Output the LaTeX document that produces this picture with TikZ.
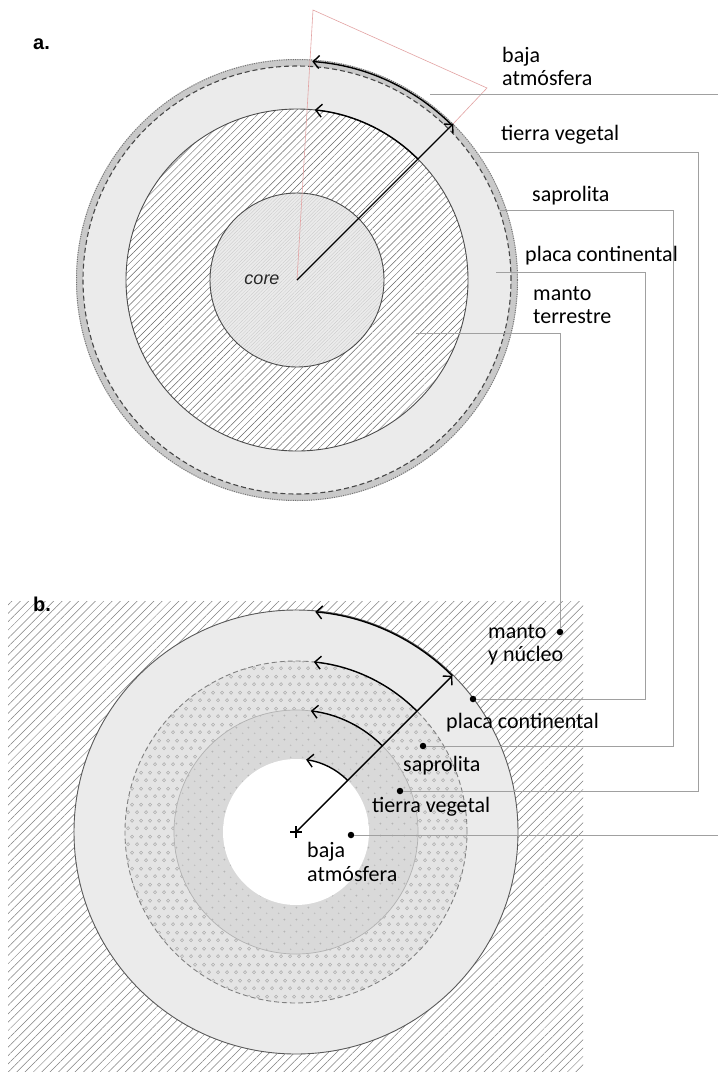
\documentclass[tikz,border=0pt]{standalone}
\usepackage{fontspec}
\setmainfont{Carlito}
\newfontfamily\helvfont{Liberation Sans}
\usetikzlibrary{arrows.meta,calc,patterns,patterns.meta}

% staggered small rings for the saprolite layer
\pgfdeclarepatternformonly{smallrings}{\pgfqpoint{0pt}{0pt}}{\pgfqpoint{9pt}{16pt}}{\pgfqpoint{9pt}{16pt}}{%
  \pgfsetlinewidth{0.6pt}%
  \pgfpathcircle{\pgfqpoint{2.25pt}{4pt}}{1.7pt}\pgfusepath{stroke}%
  \pgfpathcircle{\pgfqpoint{6.75pt}{12pt}}{1.7pt}\pgfusepath{stroke}%
}
% sparse plus marks for the topsoil layer
\pgfdeclarepatternformonly{smallplus}{\pgfqpoint{0pt}{0pt}}{\pgfqpoint{12pt}{12pt}}{\pgfqpoint{12pt}{12pt}}{%
  \pgfsetlinewidth{0.4pt}%
  \pgfpathmoveto{\pgfqpoint{2pt}{3pt}}\pgfpathlineto{\pgfqpoint{4pt}{3pt}}%
  \pgfpathmoveto{\pgfqpoint{3pt}{2pt}}\pgfpathlineto{\pgfqpoint{3pt}{4pt}}%
  \pgfpathmoveto{\pgfqpoint{8pt}{9pt}}\pgfpathlineto{\pgfqpoint{10pt}{9pt}}%
  \pgfpathmoveto{\pgfqpoint{9pt}{8pt}}\pgfpathlineto{\pgfqpoint{9pt}{10pt}}%
  \pgfusepath{stroke}%
}

\definecolor{bandgray}{HTML}{EBEBEB}
\definecolor{rimgray}{HTML}{C9C9C9}
\definecolor{coregray}{HTML}{EBEBEB}
\definecolor{leadergray}{HTML}{A0A0A0}
\definecolor{ringfill}{HTML}{E4E4E4}
\definecolor{innerfill}{HTML}{D9D9D9}
\definecolor{pinkline}{HTML}{E3A3A3}

\begin{document}
\begin{tikzpicture}[x=1pt,y=1pt,
  label/.style={inner sep=0pt, anchor=west, align=left, font=\fontsize{22}{23.5}\selectfont},
  panel/.style={inner sep=0pt, anchor=west, font=\helvfont\bfseries\fontsize{20}{22}\selectfont},
  leader/.style={draw=leadergray, line width=0.9pt},
  dotmark/.style={circle, fill=black, inner sep=0pt, minimum size=6.5pt},
  radial/.style={line width=1.4pt, -{Straight Barb[length=6pt,width=13pt]}},
  arcarrow/.style={line width=1.4pt, -{Straight Barb[length=6pt,width=13pt]}},
  outline/.style={draw=black!70, line width=0.9pt}
]
\useasboundingbox (0,0) rectangle (718,-1072);
\fill[white] (0,0) rectangle (718,-1072);

% ---------- a. concentric earth ----------
\coordinate (ca) at (297,-280);
\fill[rimgray] (ca) circle[radius=221pt];
\fill[bandgray] (ca) circle[radius=214pt];
\draw[black!55, line width=1pt, dash pattern=on 1pt off 1.3pt] (ca) circle[radius=220.5pt];
\draw[black!72, line width=1.1pt, dash pattern=on 5pt off 3pt] (ca) circle[radius=214pt];
% mantle
\fill[white] (ca) circle[radius=171pt];
\fill[pattern={Lines[angle=45,distance=4.9pt,line width=0.45pt]}, pattern color=black!60] (ca) circle[radius=171pt];
\draw[outline] (ca) circle[radius=171pt];
% core
\fill[coregray] (ca) circle[radius=87pt];
\fill[pattern={Lines[angle=45,distance=2.4pt,line width=0.3pt]}, pattern color=black!22] (ca) circle[radius=87pt];
\draw[outline] (ca) circle[radius=87pt];
\node[inner sep=0pt, font=\helvfont\itshape\fontsize{18}{20}\selectfont, text=black!85] (corelbl) at (262,-280) {core};

% radial arrow and arcs
\coordinate (atip) at ($(ca)+(45:221pt)$);
\coordinate (apinkA) at (313,-10);
\coordinate (apinkB) at (487,-88);
\draw[pinkline, line width=0.6pt] (ca) -- (apinkA) -- (apinkB) -- (atip);
\draw[radial] (ca) -- (atip);
\draw[arcarrow] ($(ca)+(45:219pt)$) arc[start angle=45, end angle=86, radius=219pt];
\draw[arcarrow] ($(ca)+(45:171pt)$) arc[start angle=45, end angle=84, radius=171pt];

\node[panel] (pa) at (33,-44) {a.};

% ---------- b. inverted layers ----------
\coordinate (cb) at (296,-832);
\fill[pattern={Lines[angle=45,distance=5.9pt,line width=0.5pt]}, pattern color=black!50] (8,-601) rectangle (583,-1072);
\fill[bandgray] (cb) circle[radius=222pt];
\draw[outline, draw=black!65] (cb) circle[radius=222pt];
\fill[ringfill] (cb) circle[radius=171pt];
\fill[pattern=smallrings, pattern color=black!32] (cb) circle[radius=171pt];
\draw[black!50, line width=0.9pt, dash pattern=on 5pt off 3pt] (cb) circle[radius=171pt];
\fill[innerfill] (cb) circle[radius=122pt];
\fill[pattern=smallplus, pattern color=black!30] (cb) circle[radius=122pt];
\draw[black!30, line width=0.7pt] (cb) circle[radius=122pt];
\fill[white] (cb) circle[radius=73pt];

\coordinate (btip) at ($(cb)+(45:221pt)$);
\draw[radial] (cb) -- (btip);
\draw[arcarrow] ($(cb)+(45:221pt)$) arc[start angle=45, end angle=85, radius=221pt];
\draw[arcarrow] ($(cb)+(45:171pt)$) arc[start angle=45, end angle=84, radius=171pt];
\draw[arcarrow] ($(cb)+(45:122pt)$) arc[start angle=45, end angle=83, radius=122pt];
\draw[arcarrow] ($(cb)+(45:73pt)$) arc[start angle=45, end angle=82, radius=73pt];
\draw[line width=2.2pt] ($(cb)+(-6pt,0)$) -- ($(cb)+(6pt,0)$);
\draw[line width=2.2pt] ($(cb)+(0,-6pt)$) -- ($(cb)+(0,6pt)$);

\node[panel] (pb) at (33,-604) {b.};

% ---------- leader lines ----------
\node[dotmark] (dmanto) at (560,-632) {};
\node[dotmark] (dplaca) at (473,-699) {};
\node[dotmark] (dsapro) at (423,-746) {};
\node[dotmark] (dtierra) at (400,-791) {};
\node[dotmark] (dbaja) at (351,-835) {};

\coordinate (lbaja) at (430,-94);
\coordinate (lbajaE) at (718,-94);
\coordinate (lbajaF) at (718,-835);
\coordinate (ltierra) at (480,-152);
\coordinate (ltierraC) at (698,-152);
\coordinate (lsapro) at (500,-210);
\coordinate (lsaproC) at (673,-210);
\coordinate (lplaca) at (496,-272);
\coordinate (lplacaC) at (645,-272);
\coordinate (lmanto) at (416,-333);
\coordinate (lmantoC) at (560,-333);

\draw[leader] (lbaja) -- (lbajaE);
\draw[leader] (dbaja) -- (lbajaF);
\draw[leader] (ltierra) -- (ltierraC) |- (dtierra);
\draw[leader] (lsapro) -- (lsaproC) |- (dsapro);
\draw[leader] (lplaca) -- (lplacaC) |- (dplaca);
\draw[leader] (lmanto) -- (lmantoC) -- (dmanto);

% ---------- labels ----------
\node[label] (ta1) at (502,-66.5) {baja\\atmósfera};
\node[label] (ta2) at (501,-135) {tierra vegetal};
\node[label] (ta3) at (532,-196) {saprolita};
\node[label] (ta4) at (525,-256) {placa continental};
\node[label] (ta5) at (533,-305) {manto\\terrestre};

\node[label] (tb1) at (488,-645) {manto\\y núcleo};
\node[label] (tb2) at (446,-723) {placa continental};
\node[label] (tb3) at (403,-766) {saprolita};
\node[label] (tb4) at (372,-807) {tierra vegetal};
\node[label] (tb5) at (307,-862) {baja\\atmósfera};
\end{tikzpicture}
\end{document}
